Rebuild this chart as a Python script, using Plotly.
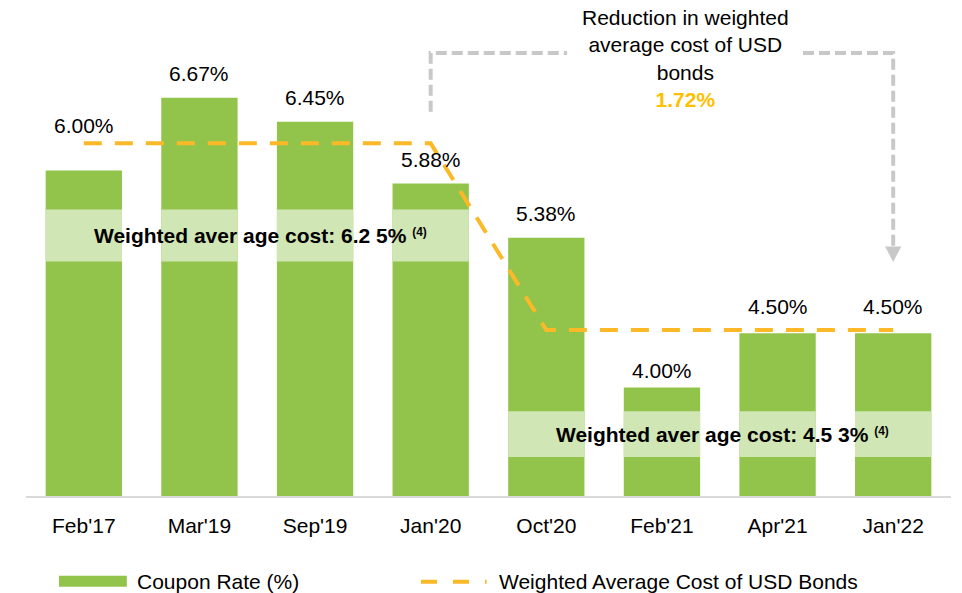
import plotly.graph_objects as go

# ---- data -------------------------------------------------------------
periods = ["Feb'17", "Mar'19", "Sep'19", "Jan'20", "Oct'20", "Feb'21", "Apr'21", "Jan'22"]
coupon_rate = [6.00, 6.67, 6.45, 5.88, 5.38, 4.00, 4.50, 4.50]
weighted_avg_cost = [6.25, 6.25, 6.25, 6.25, 4.53, 4.53, 4.53, 4.53]

# highlight strips carrying the weighted-average captions (per bar)
strip_low = [5.16, 5.16, 5.16, 5.16, 3.36, 3.36, 3.36, 3.36]
strip_high = [5.64, 5.64, 5.64, 5.64, 3.78, 3.78, 3.78, 3.78]

# ---- styling ----------------------------------------------------------
GREEN = "#92C44C"
LIGHT_GREEN = "#D1E6B5"
ORANGE = "#FBB927"
GOLD = "#FFC000"
GREY = "#C8C8C8"
FONT = "Liberation Sans, Arial, sans-serif"
BAR_W = 0.66

# vertical offset (px) of each value label above its bar top
label_shift = {"Feb'17": 45, "Feb'21": 17, "Apr'21": 27, "Jan'22": 27}

fig = go.Figure()

fig.add_trace(go.Bar(
    x=periods, y=coupon_rate, width=BAR_W,
    marker=dict(color=GREEN, line=dict(width=0)),
    name="Coupon Rate (%)", showlegend=False, hoverinfo="skip",
))
fig.add_trace(go.Bar(
    x=periods, y=[h - l for l, h in zip(strip_low, strip_high)], base=strip_low,
    width=BAR_W, marker=dict(color=LIGHT_GREEN, line=dict(width=0)),
    showlegend=False, hoverinfo="skip",
))
fig.add_trace(go.Scatter(
    x=periods, y=weighted_avg_cost, mode="lines",
    line=dict(color=ORANGE, width=4, dash="18px,13px"),
    name="Weighted Average Cost of USD Bonds", showlegend=False, hoverinfo="skip",
))

annotations = []
for p, v in zip(periods, coupon_rate):
    annotations.append(dict(
        x=p, y=v, xref="x", yref="y", text=f"{v:.2f}%", showarrow=False,
        yanchor="middle", yshift=label_shift.get(p, 24),
        font=dict(family=FONT, size=21, color="#000000"),
    ))

# weighted-average captions inside the strips
sup = "<span style='font-size:17px'><b><sup>(4)</sup></b></span>"
annotations.append(dict(
    x=0.07, y=(strip_low[0] + strip_high[0]) / 2, xref="x", yref="y",
    text=f"<b>Weighted aver age cost: 6.2 5% </b>{sup}",
    showarrow=False, xanchor="left", yanchor="middle",
    font=dict(family=FONT, size=21, color="#000000"),
))
annotations.append(dict(
    x=4.07, y=(strip_low[-1] + strip_high[-1]) / 2, xref="x", yref="y",
    text=f"<b>Weighted aver age cost: 4.5 3% </b>{sup}",
    showarrow=False, xanchor="left", yanchor="middle",
    font=dict(family=FONT, size=21, color="#000000"),
))

# reduction call-out
reduction = weighted_avg_cost[0] - weighted_avg_cost[-1]
annotations.append(dict(
    x=5.2, y=0.883, xref="x", yref="paper",
    text=("Reduction in weighted<br>average cost of USD<br>bonds<br>"
          f"<b><span style='color:{GOLD}'>{reduction:.2f}%</span></b>"),
    showarrow=False, xanchor="center", yanchor="middle", align="center",
    font=dict(family=FONT, size=21, color="#000000"),
))

# legend (drawn manually)
annotations.append(dict(
    x=0.118, y=-0.173, xref="paper", yref="paper", text="Coupon Rate (%)",
    showarrow=False, xanchor="left", yanchor="middle",
    font=dict(family=FONT, size=21, color="#000000"),
))
annotations.append(dict(
    x=0.509, y=-0.173, xref="paper", yref="paper",
    text="Weighted Average Cost of USD Bonds",
    showarrow=False, xanchor="left", yanchor="middle",
    font=dict(family=FONT, size=21, color="#000000"),
))

shapes = [
    # legend swatches
    dict(type="rect", xref="paper", yref="paper", x0=0.0357, x1=0.109,
         y0=-0.183, y1=-0.161, fillcolor=GREEN, line=dict(width=0)),
    dict(type="line", xref="paper", yref="paper", x0=0.427, x1=0.498,
         y0=-0.173, y1=-0.173, line=dict(color=ORANGE, width=4, dash="16px,16px")),
    # call-out connector
    dict(type="path", xref="x", yref="y",
         path="M 3,6.54 L 3,7.083 L 4.18,7.083",
         line=dict(color=GREY, width=4, dash="11px,5px")),
    dict(type="path", xref="x", yref="y",
         path="M 6.22,7.083 L 7,7.083 L 7,5.30",
         line=dict(color=GREY, width=4, dash="11px,5px")),
    dict(type="path", xref="x", yref="y",
         path="M 6.93,5.30 L 7.07,5.30 L 7,5.157 Z",
         fillcolor=GREY, line=dict(color=GREY, width=0)),
]

fig.update_layout(
    width=962, height=593,
    margin=dict(l=26, r=11, t=0, b=97),
    paper_bgcolor="white", plot_bgcolor="white",
    barmode="overlay", bargap=0.34,
    annotations=annotations, shapes=shapes,
    showlegend=False,
    xaxis=dict(
        type="category", showgrid=False, zeroline=False,
        showline=True, linecolor="#D9D9D9", linewidth=2,
        ticks="", ticklabelstandoff=10,
        tickfont=dict(family=FONT, size=21, color="#000000"),
    ),
    yaxis=dict(visible=False, range=[3.0, 7.571]),
)

fig.write_html("out.html")
